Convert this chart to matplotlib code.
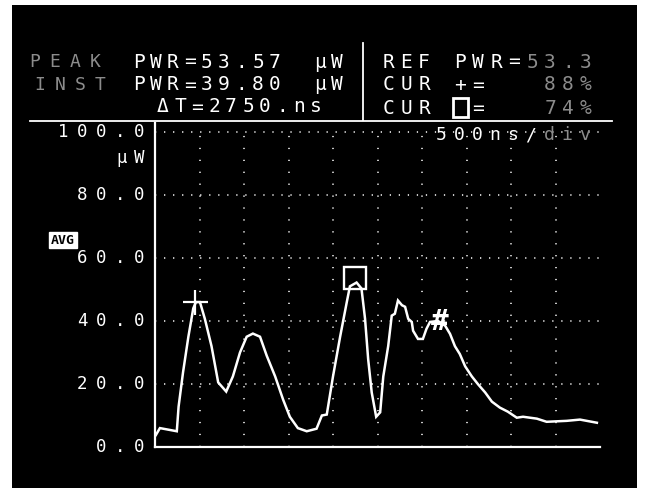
import matplotlib
matplotlib.use('Agg')
import matplotlib.pyplot as plt
from matplotlib.patches import Rectangle

# trace samples (time in ns, power in uW)
time_ns = [10, 55, 150, 245, 265, 315, 375, 430, 460, 505, 560, 635, 710, 800,
           875, 955, 1030, 1100, 1180, 1255, 1350, 1440, 1515, 1605, 1705, 1815,
           1875, 1930, 2000, 2080, 2155, 2190, 2265, 2320, 2360, 2395, 2435, 2485,
           2530, 2565, 2620, 2660, 2695, 2730, 2775, 2810, 2845, 2885, 2900, 2955,
           3010, 3050, 3090, 3180, 3260, 3315, 3370, 3425, 3485, 3560, 3630, 3710,
           3785, 3875, 3965, 4065, 4135, 4290, 4400, 4625, 4775, 4965]
power_uw = [3.8, 6.0, 5.5, 5.0, 12.8, 23.7, 35.0, 44.0, 46.0, 46.0, 40.7, 32.0, 20.5, 17.6,
            22.4, 30.0, 35.0, 36.0, 35.0, 29.0, 22.4, 15.0, 9.6, 6.0, 5.0, 5.8,
            10.0, 10.3, 22.4, 35.0, 46.0, 51.0, 52.2, 50.3, 40.7, 27.9, 17.3, 9.6,
            11.0, 22.4, 32.0, 41.7, 42.3, 46.5, 45.0, 44.5, 40.7, 39.7, 36.9, 34.3,
            34.3, 37.5, 39.7, 40.0, 38.5, 35.9, 32.0, 29.5, 25.6, 22.4, 19.9, 17.3,
            14.4, 12.5, 11.2, 9.3, 9.6, 9.0, 8.0, 8.3, 8.7, 7.7]

y_ticks = [0, 20, 40, 60, 80, 100]
y_tick_labels = ['0.0', '20.0', '40.0', '60.0', '80.0', '100.0']
x_divs = [500, 1000, 1500, 2000, 2500, 3000, 3500, 4000, 4500]

plus_cursor = (450, 46.0)
box_cursor = (2250, 53.57)
hash_cursor = (3200, 39.80)

W, H = 648, 494
MONO = 'DejaVu Sans Mono'
DIM = '#8c8c8c'

fig = plt.figure(figsize=(W / 100, H / 100), dpi=100)
fig.patch.set_facecolor('white')
fig.add_artist(Rectangle((12 / W, 1 - 488 / H), 625 / W, 483 / H,
                         transform=fig.transFigure, fc='black', ec='none', zorder=-10))


def px_text(x, y, s, pitch=17.5, size=14, color='white'):
    # dot-matrix style: one character per fixed cell
    for i, ch in enumerate(s):
        if ch != ' ':
            fig.text((x + i * pitch) / W, 1 - y / H, ch, ha='center', va='center',
                     fontsize=size, color=color, family=MONO)


# header block
px_text(35, 62, 'PEAK', pitch=20, size=13, color=DIM)
px_text(139, 62, 'PWR=53.57', pitch=17)
px_text(320, 62, 'μW', pitch=17)
px_text(40, 85, 'INST', pitch=20, size=13, color=DIM)
px_text(139, 85, 'PWR=39.80', pitch=17)
px_text(320, 85, 'μW', pitch=17)
px_text(163, 107, 'ΔT=2750.ns', pitch=17)

px_text(388, 62, 'REF PWR=', pitch=18)
px_text(532, 62, '53.3', pitch=18, color=DIM)
px_text(388, 85, 'CUR +=', pitch=18)
px_text(550, 85, '88%', pitch=18, color=DIM)
px_text(388, 108, 'CUR  =', pitch=18)
px_text(550, 108, '74%', pitch=18, color=DIM)
fig.add_artist(Rectangle((453 / W, 1 - 117 / H), 15 / W, 19 / H, transform=fig.transFigure,
                         fill=False, ec='white', lw=2))

fig.add_artist(plt.Line2D([363 / W, 363 / W], [1 - 43 / H, 1 - 120 / H], color='white', lw=1.3))
fig.add_artist(plt.Line2D([30 / W, 612 / W], [1 - 121 / H, 1 - 121 / H], color='white', lw=1.3))

px_text(441, 135, '500ns/', pitch=18, size=13)
px_text(549, 135, 'div', pitch=18, size=13, color=DIM)

fig.text(63 / W, 1 - 240 / H, 'AVG', ha='center', va='center', fontsize=9.5, color='black',
         family=MONO, weight='bold',
         bbox=dict(boxstyle='square,pad=0.15', fc='white', ec='white'))

# plot area: 10 divisions of 500 ns, 0-100 uW
ax = fig.add_axes([155 / W, (H - 447) / H, 445 / W, 324.5 / H])
ax.set_xlim(0, 5000)
ax.set_ylim(0, 103)
ax.patch.set_alpha(0)
for side in ['top', 'right']:
    ax.spines[side].set_visible(False)
for side in ['left', 'bottom']:
    ax.spines[side].set_color('white')
    ax.spines[side].set_linewidth(1.6)
ax.set_xticks([])
ax.set_yticks([])

for yv in y_ticks[1:]:
    ax.axhline(yv, color='white', lw=1.3, ls=(0, (0.7, 4.3)), alpha=0.85)
for xv in x_divs:
    ax.axvline(xv, ymax=100 / 103, color='white', lw=1.3, ls=(0, (0.7, 5.9)), alpha=0.85)

ax.plot(time_ns, power_uw, color='white', lw=1.8, solid_joinstyle='miter')

ax.plot(*plus_cursor, marker='+', ms=18, mew=1.6, color='white')
ax.plot(*box_cursor, marker='s', ms=16, mfc='none', mec='white', mew=1.7)
ax.text(*hash_cursor, '#', ha='center', va='center', fontsize=21, color='white',
        family=MONO, weight='bold')

# y labels, one character per cell left of the axis
for v, lab in zip(y_ticks, y_tick_labels):
    n = len(lab)
    for i, ch in enumerate(lab):
        dx = (-16 - (n - 1 - i) * 19) * 0.72
        ax.annotate(ch, xy=(0, v), xycoords=ax.get_yaxis_transform(), xytext=(dx, 0),
                    textcoords='offset points', ha='center', va='center',
                    fontsize=12.5, color='white', family=MONO, annotation_clip=False)
for i, ch in enumerate('μW'):
    ax.annotate(ch, xy=(0, 100), xycoords=ax.get_yaxis_transform(),
                xytext=((-33 + i * 17) * 0.72, -26 * 0.72), textcoords='offset points',
                ha='center', va='center', fontsize=12.5, color='white', family=MONO,
                annotation_clip=False)

fig.savefig('out.png', dpi=100, facecolor='white')
